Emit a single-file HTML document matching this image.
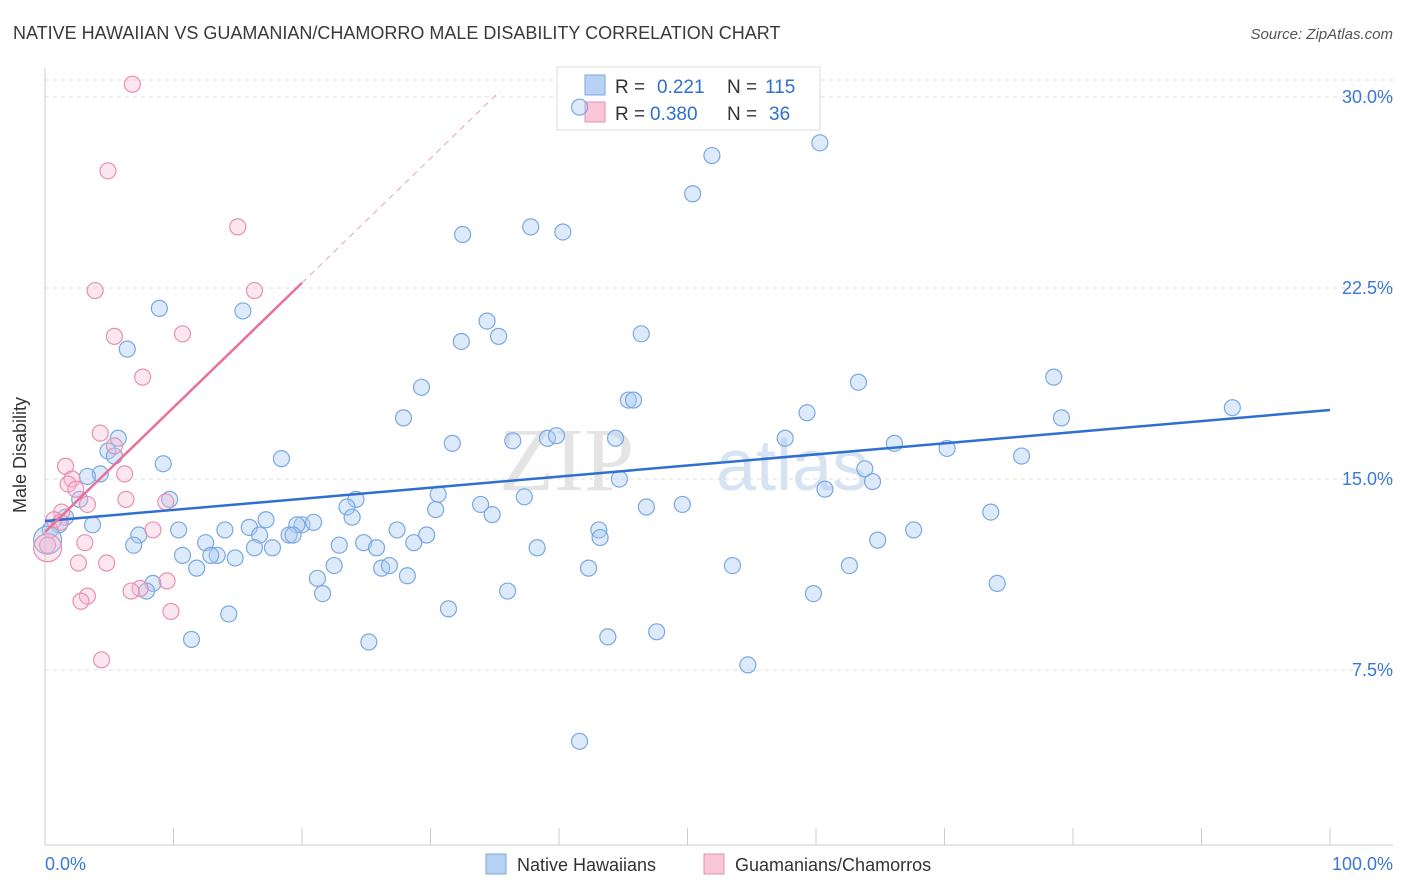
<!DOCTYPE html>
<html><head><meta charset="utf-8">
<style>
body{margin:0;background:#fff;font-family:"Liberation Sans",sans-serif;}
#wrap{position:relative;width:1406px;height:892px;overflow:hidden;}
</style></head>
<body>
<div id="wrap">
<svg id="svg" width="1406" height="892" xmlns="http://www.w3.org/2000/svg">
<text x="13" y="39" font-size="18" fill="#3a3a3a">NATIVE HAWAIIAN VS GUAMANIAN/CHAMORRO MALE DISABILITY CORRELATION CHART</text>
<text x="1393" y="39" font-size="15" fill="#555" text-anchor="end" font-style="italic">Source: ZipAtlas.com</text>
<text x="634" y="490" font-size="90" fill="#e4e4e4" font-family="Liberation Serif" text-anchor="end">ZIP</text>
<text x="716" y="490" font-size="72" fill="#d6e3f3">atlas</text>
<g id="grid"></g>
<g>
<rect x="557" y="67" width="263" height="63" fill="#fff" stroke="#ddd"/>
<rect x="585" y="75" width="20" height="20" fill="#b8d2f4" stroke="#7aa8e0"/>
<rect x="585" y="102" width="20" height="20" fill="#f9c6d8" stroke="#e890b0"/>
<text x="615" y="93" font-size="19" fill="#333">R = </text><text x="657" y="93" font-size="19" fill="#2f6fd0">0.221</text>
<text x="727" y="93" font-size="19" fill="#333">N = </text><text x="765" y="93" font-size="19" fill="#2f6fd0">115</text>
<text x="615" y="120" font-size="19" fill="#333">R = </text><text x="650" y="120" font-size="19" fill="#2f6fd0">0.380</text>
<text x="727" y="120" font-size="19" fill="#333">N = </text><text x="769" y="120" font-size="19" fill="#2f6fd0">36</text>
</g>
<g>
<rect x="486" y="854" width="20" height="20" fill="#b8d2f4" stroke="#7aa8e0"/>
<text x="517" y="871" font-size="18" fill="#333">Native Hawaiians</text>
<rect x="704" y="854" width="20" height="20" fill="#f9c6d8" stroke="#e890b0"/>
<text x="735" y="871" font-size="18" fill="#333">Guamanians/Chamorros</text>
</g>
<g id="marks"></g>
<text x="26" y="455" font-size="18" fill="#333" text-anchor="middle" transform="rotate(-90 26 455)">Male Disability</text>
</svg>
</div>
<script>
const yTicks=[7.5,15,22.5,30];
const yTickLabels=["7.5%","15.0%","22.5%","30.0%"];
const xTickLabels=["0.0%","100.0%"];
const blueX=[41.6,51.9,60.3,50.4,37.8,40.3,32.5,8.9,15.4,34.4,46.4,35.3,32.4,6.4,29.3,78.5,63.3,45.4,45.8,92.4,59.3,79.1,27.9,5.7,39.1,39.8,44.4,57.6,36.4,31.7,66.1,70.2,4.9,5.4,18.4,76.0,9.2,63.8,4.3,3.3,44.7,64.4,60.7,30.6,37.3,2.7,9.7,24.2,33.9,46.8,49.6,30.4,23.5,34.8,73.6,23.9,1.6,17.2,20.0,20.9,19.6,1.1,3.7,0.4,15.9,10.4,14.0,27.4,67.6,43.1,16.7,19.0,29.7,7.3,19.3,43.2,12.5,64.8,24.8,22.9,25.8,28.7,6.9,38.3,17.7,16.3,13.4,14.8,10.7,12.9,26.2,26.8,22.5,11.8,53.5,42.3,62.6,28.2,21.2,74.1,8.4,21.6,36.0,7.9,59.8,31.4,14.3,11.4,43.8,47.6,25.2,54.7,41.6,0.2];
const blueY=[29.6,27.7,28.2,26.2,24.9,24.7,24.6,21.7,21.6,21.2,20.7,20.6,20.4,20.1,18.6,19.0,18.8,18.1,18.1,17.8,17.6,17.4,17.4,16.6,16.6,16.7,16.6,16.6,16.5,16.4,16.4,16.2,16.1,15.9,15.8,15.9,15.6,15.4,15.2,15.1,15.0,14.9,14.6,14.4,14.3,14.2,14.2,14.2,14.0,13.9,14.0,13.8,13.9,13.6,13.7,13.5,13.5,13.4,13.2,13.3,13.2,13.2,13.2,13.0,13.1,13.0,13.0,13.0,13.0,13.0,12.8,12.8,12.8,12.8,12.8,12.7,12.5,12.6,12.5,12.4,12.3,12.5,12.4,12.3,12.3,12.3,12.0,11.9,12.0,12.0,11.5,11.6,11.6,11.5,11.6,11.5,11.6,11.2,11.1,10.9,10.9,10.5,10.6,10.6,10.5,9.9,9.7,8.7,8.8,9.0,8.6,7.7,4.7,12.6];
const pinkX=[6.8,4.9,15.0,3.9,16.3,5.4,10.7,7.6,4.3,5.4,1.6,6.2,2.1,1.8,2.4,6.3,3.3,9.4,1.3,0.7,1.2,8.4,3.1,0.2,2.6,4.8,7.4,6.7,9.5,3.3,2.8,9.8,4.4,0.2];
const pinkY=[30.5,27.1,24.9,22.4,22.4,20.6,20.7,19.0,16.8,16.3,15.5,15.2,15.0,14.8,14.6,14.2,14.0,14.1,13.7,13.4,13.3,13.0,12.5,12.4,11.7,11.7,10.7,10.6,11.0,10.4,10.2,9.8,7.9,12.3];
const blueFit=[13.35,17.71];
const pinkFit=[12.92,0.489];
const NS="http://www.w3.org/2000/svg";
const sx=v=>45+v*12.85, sy=v=>861-v*25.467;
function mk(tag,at,parent){const e=document.createElementNS(NS,tag);for(const k in at)e.setAttribute(k,at[k]);parent.appendChild(e);return e;}
const grid=document.getElementById('grid'), marks=document.getElementById('marks');
let g;
g=mk('line',{x1:45,y1:80,x2:1393,y2:80,stroke:'#ddd','stroke-dasharray':'4,4'},grid);

yTicks.forEach((t,i)=>{
 const l=mk('line',{x1:45,x2:1393,y1:sy(t),y2:sy(t),stroke:'#ddd','stroke-dasharray':'4,4'},grid);
 
 const tx=mk('text',{x:1393,y:sy(t)+6,'font-size':18,fill:'#3a78d6','text-anchor':'end'},grid);
 tx.textContent=yTickLabels[i];
 
});
g=mk('line',{x1:45,y1:68,x2:45,y2:845,stroke:'#ccc'},grid);

g=mk('line',{x1:45,y1:845,x2:1393,y2:845,stroke:'#ccc'},grid);

for(let k=0;k<=10;k++){const t=mk('line',{x1:sx(k*10),x2:sx(k*10),y1:828,y2:845,stroke:'#ccc'},grid);
 }
[[0,'start',45],[100,'end',1393]].forEach((p,i)=>{const tx=mk('text',{x:p[2],y:870,'font-size':18,fill:'#3a78d6','text-anchor':p[1]},grid);
 tx.textContent=xTickLabels[i];});
blueX.forEach((x,i)=>{const r=i==blueX.length-1?14:8;
 const c=mk('circle',{cx:sx(x),cy:sy(blueY[i]),r:r,fill:'rgba(170,202,242,0.4)',stroke:'#7aa8e0','stroke-width':1.2},marks);
 });
pinkX.forEach((x,i)=>{const r=i==pinkX.length-1?14:8;
 const c=mk('circle',{cx:sx(x),cy:sy(pinkY[i]),r:r,fill:'rgba(246,184,208,0.35)',stroke:'#e890b0','stroke-width':1.2},marks);
 });
g=mk('line',{x1:sx(0),y1:sy(blueFit[0]),x2:sx(100),y2:sy(blueFit[1]),stroke:'#2f6fd0','stroke-width':2.5},marks);

g=mk('line',{x1:sx(0),y1:sy(pinkFit[0]),x2:sx(20),y2:sy(pinkFit[0]+20*pinkFit[1]),stroke:'#e8709a','stroke-width':2.5},marks);

g=mk('line',{x1:sx(20),y1:sy(pinkFit[0]+20*pinkFit[1]),x2:sx(35.4),y2:sy(pinkFit[0]+35.4*pinkFit[1]),stroke:'#e8a0b8','stroke-width':1,'stroke-dasharray':'6,5'},marks);

</script>
</body></html>
